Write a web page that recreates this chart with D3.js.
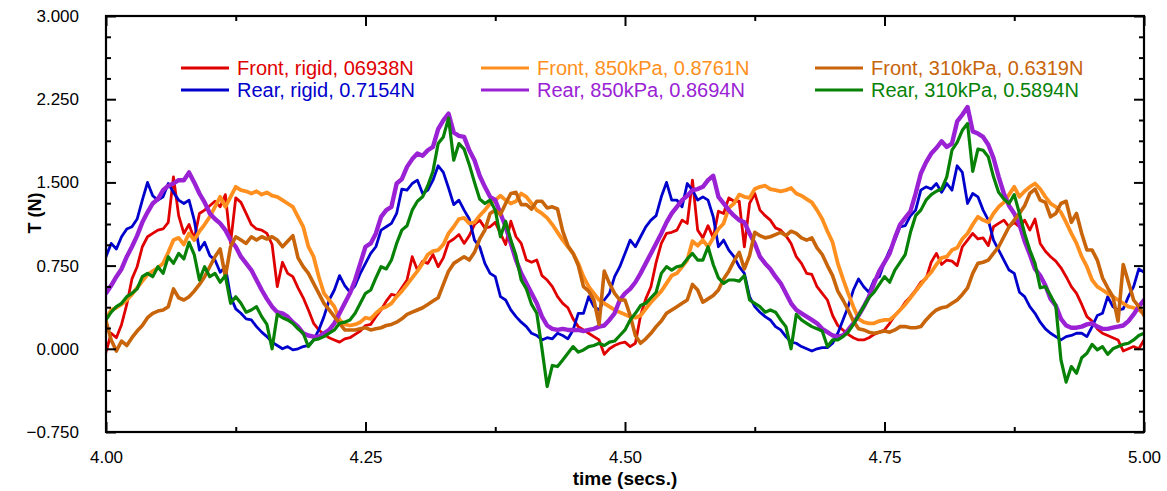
<!DOCTYPE html>
<html>
<head>
<meta charset="utf-8">
<script src="https://cdn.jsdelivr.net/npm/d3@7"></script>
<style>
  html, body { margin: 0; padding: 0; background: #fff; }
  svg { display: block; font-family: "Liberation Sans", Arial, Helvetica, sans-serif; }
</style>
</head>
<body>
<svg id="chart" width="1167" height="491"></svg>
<script>
// Sampling grid: one reading every 5 ms from 4.000 s to 5.000 s
const tStart = 4.0;
const tStep = 0.005;

// Tension T (N), one row per 50 ms
const frontRigid = [
  -0.03, 0.14, 0.10, 0.22, 0.40, 0.63, 0.74, 0.92, 1.01, 1.04,
  1.07, 1.08, 1.14, 1.55, 1.20, 1.04, 1.12, 0.99, 1.22, 1.25,
  1.29, 1.33, 1.28, 1.39, 0.95, 1.36, 1.32, 1.22, 1.12, 1.08,
  1.07, 1.04, 0.94, 0.56, 0.78, 0.68, 0.65, 0.55, 0.46, 0.35,
  0.23, 0.17, 0.13, 0.10, 0.08, 0.06, 0.09, 0.10, 0.13, 0.16,
  0.21, 0.22, 0.29, 0.35, 0.43, 0.49, 0.48, 0.55, 0.62, 0.83,
  0.71, 0.79, 0.77, 0.85, 0.74, 0.82, 0.96, 0.99, 1.03, 0.95,
  1.02, 1.12, 1.16, 1.09, 1.10, 1.14, 1.04, 0.94, 1.15, 1.01,
  0.95, 0.80, 0.78, 0.80, 0.66, 0.62, 0.56, 0.47, 0.41, 0.37,
  0.27, 0.20, 0.17, 0.14, 0.11, 0.08, -0.05, 0.00, 0.03, 0.05,
  0.06, 0.02, 0.05, 0.30, 0.45, 0.56, 0.78, 0.95, 1.04, 1.05,
  1.07, 1.16, 1.13, 1.52, 1.07, 1.00, 1.11, 1.00, 1.24, 1.22,
  1.36, 1.33, 1.33, 0.92, 1.31, 1.40, 1.25, 1.20, 1.16, 1.09,
  1.07, 1.02, 0.95, 0.83, 0.77, 0.68, 0.67, 0.56, 0.50, 0.44,
  0.30, 0.21, 0.17, 0.13, 0.10, 0.08, 0.08, 0.10, 0.13, 0.15,
  0.17, 0.23, 0.30, 0.35, 0.42, 0.47, 0.53, 0.60, 0.63, 0.78,
  0.86, 0.76, 0.80, 0.79, 0.75, 0.92, 0.98, 1.04, 0.99, 1.00,
  0.93, 1.10, 1.13, 1.16, 1.10, 1.14, 1.10, 1.16, 1.07, 1.17,
  0.95, 0.88, 0.83, 0.79, 0.73, 0.65, 0.56, 0.50, 0.40, 0.29,
  0.25, 0.18, 0.14, 0.12, 0.10, 0.08, -0.02, 0.00, 0.02, 0.00,
  0.08
];

const rearRigid = [
  0.83, 0.95, 0.90, 1.01, 1.08, 1.10, 1.17, 1.34, 1.50, 1.38,
  1.34, 1.37, 1.49, 1.41, 1.34, 1.31, 1.34, 1.16, 0.89, 0.96,
  0.84, 0.80, 0.69, 0.74, 0.47, 0.36, 0.32, 0.27, 0.26, 0.20,
  0.15, 0.11, 0.06, 0.03, 0.00, 0.02, -0.01, 0.00, 0.02, 0.03,
  0.08, 0.17, 0.29, 0.44, 0.53, 0.66, 0.57, 0.51, 0.57, 0.68,
  0.77, 0.86, 0.92, 1.07, 1.10, 1.13, 1.22, 1.44, 1.43, 1.49,
  1.52, 1.40, 1.43, 1.52, 1.65, 1.59, 1.45, 1.30, 1.34, 1.25,
  1.17, 0.98, 0.92, 0.77, 0.68, 0.65, 0.47, 0.44, 0.35, 0.29,
  0.24, 0.20, 0.14, 0.12, 0.08, 0.10, 0.09, 0.14, 0.12, 0.09,
  0.17, 0.32, 0.32, 0.47, 0.38, 0.35, 0.44, 0.50, 0.65, 0.74,
  0.86, 0.98, 0.92, 1.01, 1.10, 1.16, 1.20, 1.37, 1.50, 1.34,
  1.34, 1.28, 1.49, 1.43, 1.34, 1.37, 1.34, 1.19, 0.92, 0.98,
  0.89, 0.83, 0.74, 0.68, 0.47, 0.38, 0.33, 0.29, 0.26, 0.20,
  0.17, 0.11, 0.06, 0.05, 0.02, 0.00, -0.02, 0.00, 0.01, 0.01,
  0.05, 0.14, 0.26, 0.38, 0.53, 0.63, 0.56, 0.51, 0.62, 0.65,
  0.78, 0.89, 0.98, 1.10, 1.11, 1.20, 1.25, 1.43, 1.46, 1.44,
  1.49, 1.41, 1.49, 1.43, 1.65, 1.59, 1.31, 1.40, 1.37, 1.25,
  1.16, 0.98, 0.89, 0.80, 0.71, 0.68, 0.51, 0.47, 0.38, 0.32,
  0.24, 0.18, 0.14, 0.11, 0.08, 0.11, 0.12, 0.14, 0.14, 0.11,
  0.20, 0.30, 0.32, 0.47, 0.38, 0.35, 0.36, 0.47, 0.56, 0.72,
  0.69
];

const front850 = [
  0.27, 0.35, 0.37, 0.40, 0.44, 0.49, 0.55, 0.61, 0.67, 0.70,
  0.73, 0.77, 0.87, 0.98, 1.00, 0.94, 1.04, 0.98, 1.06, 1.12,
  1.19, 1.28, 1.37, 1.28, 1.37, 1.46, 1.43, 1.42, 1.40, 1.42,
  1.39, 1.41, 1.38, 1.37, 1.34, 1.31, 1.28, 1.19, 1.10, 0.92,
  0.83, 0.65, 0.50, 0.44, 0.38, 0.26, 0.22, 0.21, 0.22, 0.24,
  0.28, 0.27, 0.32, 0.36, 0.38, 0.41, 0.47, 0.52, 0.58, 0.64,
  0.70, 0.77, 0.85, 0.88, 0.89, 0.94, 1.04, 1.10, 1.17, 1.18,
  1.13, 1.14, 1.20, 1.25, 1.31, 1.34, 1.38, 1.34, 1.31, 1.33,
  1.40, 1.37, 1.31, 1.25, 1.22, 1.18, 1.12, 1.05, 0.98, 0.92,
  0.86, 0.77, 0.65, 0.56, 0.50, 0.44, 0.41, 0.38, 0.35, 0.33,
  0.31, 0.29, 0.28, 0.30, 0.36, 0.42, 0.47, 0.52, 0.59, 0.66,
  0.68, 0.74, 0.80, 0.97, 0.93, 0.98, 0.92, 1.00, 1.08, 1.13,
  1.27, 1.31, 1.39, 1.37, 1.36, 1.44, 1.46, 1.47, 1.44, 1.43,
  1.42, 1.43, 1.45, 1.40, 1.38, 1.35, 1.32, 1.25, 1.17, 1.06,
  0.96, 0.77, 0.63, 0.50, 0.38, 0.27, 0.24, 0.23, 0.23, 0.25,
  0.26, 0.26, 0.30, 0.35, 0.40, 0.46, 0.52, 0.58, 0.64, 0.69,
  0.76, 0.82, 0.83, 0.89, 0.91, 0.99, 1.04, 1.12, 1.19, 1.16,
  1.14, 1.22, 1.28, 1.32, 1.39, 1.46, 1.37, 1.42, 1.46, 1.49,
  1.44, 1.37, 1.31, 1.28, 1.23, 1.14, 1.04, 0.95, 0.83, 0.74,
  0.62, 0.56, 0.53, 0.50, 0.47, 0.44, 0.41, 0.38, 0.37, 0.35,
  0.32
];

const rear850 = [
  0.50, 0.57, 0.65, 0.72, 0.83, 0.92, 1.02, 1.14, 1.23, 1.31,
  1.35, 1.43, 1.47, 1.49, 1.52, 1.52, 1.59, 1.50, 1.40, 1.32,
  1.22, 1.17, 1.13, 1.07, 0.98, 0.92, 0.83, 0.77, 0.71, 0.62,
  0.53, 0.45, 0.38, 0.33, 0.32, 0.29, 0.24, 0.20, 0.14, 0.12,
  0.11, 0.11, 0.14, 0.17, 0.23, 0.32, 0.41, 0.50, 0.62, 0.77,
  0.92, 0.95, 1.04, 1.19, 1.25, 1.28, 1.49, 1.53, 1.64, 1.71,
  1.76, 1.74, 1.79, 1.82, 1.98, 2.06, 2.12, 1.95, 1.92, 1.91,
  1.79, 1.70, 1.56, 1.46, 1.37, 1.34, 1.22, 1.10, 0.95, 0.80,
  0.68, 0.59, 0.50, 0.41, 0.29, 0.21, 0.18, 0.17, 0.18, 0.17,
  0.17, 0.17, 0.16, 0.17, 0.18, 0.20, 0.21, 0.26, 0.32, 0.44,
  0.50, 0.54, 0.60, 0.68, 0.77, 0.86, 0.95, 1.04, 1.14, 1.22,
  1.28, 1.34, 1.38, 1.43, 1.44, 1.46, 1.52, 1.56, 1.37, 1.31,
  1.25, 1.20, 1.16, 1.14, 1.04, 0.95, 0.83, 0.77, 0.72, 0.65,
  0.59, 0.50, 0.41, 0.35, 0.32, 0.29, 0.26, 0.23, 0.18, 0.15,
  0.12, 0.11, 0.12, 0.17, 0.23, 0.30, 0.38, 0.47, 0.59, 0.70,
  0.78, 0.86, 1.00, 1.12, 1.18, 1.24, 1.40, 1.58, 1.68, 1.76,
  1.81, 1.87, 1.82, 1.85, 2.05, 2.11, 2.18, 1.96, 1.94, 1.91,
  1.84, 1.72, 1.55, 1.40, 1.29, 1.22, 1.12, 0.97, 0.85, 0.72,
  0.66, 0.57, 0.45, 0.39, 0.27, 0.21, 0.19, 0.19, 0.20, 0.22,
  0.23, 0.20, 0.18, 0.18, 0.19, 0.20, 0.21, 0.25, 0.31, 0.38,
  0.44
];

const front310 = [
  0.25, 0.08, -0.02, 0.07, 0.03, 0.10, 0.16, 0.21, 0.28, 0.32,
  0.34, 0.35, 0.38, 0.54, 0.46, 0.44, 0.47, 0.52, 0.58, 0.65,
  0.74, 0.83, 0.90, 0.65, 0.92, 1.01, 0.98, 0.95, 1.01, 0.98,
  1.01, 0.99, 1.01, 0.98, 0.92, 0.97, 1.02, 0.82, 0.74, 0.68,
  0.59, 0.50, 0.41, 0.35, 0.29, 0.23, 0.17, 0.17, 0.17, 0.18,
  0.19, 0.17, 0.18, 0.19, 0.21, 0.22, 0.24, 0.27, 0.31, 0.33,
  0.35, 0.37, 0.40, 0.43, 0.46, 0.58, 0.70, 0.77, 0.80, 0.83,
  0.80, 0.87, 0.99, 1.07, 1.22, 1.25, 1.21, 1.31, 1.40, 1.41,
  1.30, 1.30, 1.26, 1.33, 1.33, 1.27, 1.28, 1.26, 1.06, 0.93,
  0.86, 0.75, 0.56, 0.52, 0.44, 0.22, 0.70, 0.59, 0.50, 0.44,
  0.44, 0.30, 0.12, 0.05, 0.09, 0.14, 0.20, 0.25, 0.32, 0.35,
  0.38, 0.41, 0.44, 0.58, 0.53, 0.42, 0.45, 0.48, 0.53, 0.63,
  0.70, 0.79, 0.87, 0.72, 0.84, 1.05, 1.02, 1.00, 1.01, 1.03,
  1.05, 1.02, 1.06, 1.04, 1.00, 0.98, 1.00, 0.91, 0.85, 0.75,
  0.66, 0.52, 0.44, 0.35, 0.25, 0.18, 0.17, 0.15, 0.14, 0.15,
  0.16, 0.15, 0.17, 0.20, 0.20, 0.19, 0.19, 0.20, 0.26, 0.31,
  0.35, 0.37, 0.38, 0.41, 0.44, 0.49, 0.55, 0.68, 0.77, 0.78,
  0.80, 0.86, 0.92, 1.01, 1.10, 1.16, 1.22, 1.29, 1.40, 1.44,
  1.34, 1.32, 1.19, 1.22, 1.31, 1.33, 1.14, 1.22, 1.04, 0.89,
  0.89, 0.80, 0.64, 0.55, 0.47, 0.25, 0.76, 0.60, 0.44, 0.38,
  0.30
];

const rear310 = [
  0.26, 0.33, 0.38, 0.41, 0.47, 0.50, 0.54, 0.65, 0.68, 0.65,
  0.74, 0.68, 0.83, 0.77, 0.86, 0.81, 0.96, 0.85, 0.62, 0.74,
  0.65, 0.68, 0.60, 0.66, 0.41, 0.47, 0.41, 0.33, 0.35, 0.38,
  0.29, 0.22, 0.00, 0.31, 0.28, 0.26, 0.23, 0.18, 0.14, 0.02,
  0.08, 0.09, 0.11, 0.14, 0.17, 0.23, 0.24, 0.26, 0.32, 0.41,
  0.50, 0.53, 0.64, 0.74, 0.72, 0.80, 0.95, 1.07, 1.11, 1.25,
  1.33, 1.37, 1.47, 1.60, 1.85, 1.91, 2.08, 1.70, 1.85, 1.80,
  1.66, 1.50, 1.35, 1.31, 1.34, 1.25, 1.01, 1.15, 0.98, 0.84,
  0.62, 0.54, 0.40, 0.32, 0.00, -0.34, -0.15, -0.16, -0.10, -0.04,
  0.02, -0.03, -0.01, 0.02, 0.03, 0.05, 0.03, 0.06, 0.07, 0.12,
  0.17, 0.26, 0.32, 0.39, 0.41, 0.46, 0.51, 0.68, 0.74, 0.71,
  0.74, 0.75, 0.81, 0.86, 0.80, 0.80, 0.92, 0.76, 0.64, 0.59,
  0.62, 0.62, 0.61, 0.66, 0.44, 0.41, 0.38, 0.33, 0.35, 0.33,
  0.26, 0.20, 0.00, 0.31, 0.26, 0.23, 0.20, 0.18, 0.16, 0.02,
  0.08, 0.08, 0.11, 0.15, 0.22, 0.30, 0.38, 0.46, 0.51, 0.58,
  0.65, 0.60, 0.71, 0.78, 0.85, 1.05, 1.20, 1.25, 1.34, 1.39,
  1.42, 1.44, 1.55, 1.79, 1.86, 1.97, 2.03, 1.60, 1.80, 1.79,
  1.73, 1.55, 1.41, 1.35, 1.31, 1.39, 1.22, 1.04, 0.89, 0.77,
  0.55, 0.56, 0.48, 0.39, -0.10, -0.30, -0.16, -0.22, -0.08, -0.04,
  0.04, -0.01, 0.02, -0.05, 0.00, 0.02, 0.04, 0.05, 0.08, 0.12,
  0.14
];

// Legend labels, in drawing order (later ones sit on top)
const seriesLabels = [
  "Front, rigid, 06938N",
  "Rear, rigid, 0.7154N",
  "Front, 850kPa, 0.8761N",
  "Rear, 850kPa, 0.8694N",
  "Front, 310kPa, 0.6319N",
  "Rear, 310kPa, 0.5894N"
];
const seriesValues = [frontRigid, rearRigid, front850, rear850, front310, rear310];

// Axis ticks
const xMajorTicks = [4.00, 4.25, 4.50, 4.75, 5.00];
const xMinorTicks = [4.125, 4.375, 4.625, 4.875];
const yMajorTicks = [-0.75, 0.00, 0.75, 1.50, 2.25, 3.00];
const yMinorTicks = [-0.5625, -0.375, -0.1875, 0.1875, 0.375, 0.5625,
                     0.9375, 1.125, 1.3125, 1.6875, 1.875, 2.0625,
                     2.4375, 2.625, 2.8125];

// ---- styling ----
const colors = ["#e00000", "#0000cc", "#ff9020", "#9a22d4", "#c8640a", "#078207"];
const widths = [2.8, 2.8, 3.8, 4.4, 3.6, 3.2];

const svg = d3.select("#chart");
const W = 1167, H = 491;
const plot = { left: 106, top: 16, right: 1144, bottom: 432 };

svg.append("rect").attr("width", W).attr("height", H).attr("fill", "#fff");

const x = d3.scaleLinear().domain([4, 5]).range([plot.left, plot.right]);
const y = d3.scaleLinear().domain([-0.75, 3]).range([plot.bottom, plot.top]);

svg.append("defs").append("clipPath").attr("id", "plotClip")
  .append("rect")
  .attr("x", plot.left).attr("y", plot.top)
  .attr("width", plot.right - plot.left).attr("height", plot.bottom - plot.top);

// ---- data lines ----
const line = d3.line()
  .x((d, i) => x(tStart + i * tStep))
  .y(d => y(d));

const lines = svg.append("g").attr("clip-path", "url(#plotClip)");
seriesValues.forEach((vals, k) => {
  lines.append("path")
    .datum(vals)
    .attr("d", line)
    .attr("fill", "none")
    .attr("stroke", colors[k])
    .attr("stroke-width", widths[k])
    .attr("stroke-linejoin", "round")
    .attr("stroke-linecap", "round");
});

// ---- axes (ticks drawn inward on all four sides) ----
function styleAxis(g) {
  g.select(".domain").remove();
  g.selectAll(".tick line").attr("stroke", "#000").attr("stroke-width", 2);
  g.selectAll(".tick text")
    .attr("fill", "#000")
    .style("font-size", "17px")
    .style("font-family", "'Liberation Sans', Arial, Helvetica, sans-serif");
}

// bottom
svg.append("g").attr("transform", `translate(0,${plot.bottom})`)
  .call(d3.axisBottom(x).tickValues(xMajorTicks).tickSize(-10).tickPadding(19)
    .tickFormat(d3.format(".2f")))
  .call(styleAxis);
svg.append("g").attr("transform", `translate(0,${plot.bottom})`)
  .call(d3.axisBottom(x).tickValues(xMinorTicks).tickSize(-5).tickFormat(""))
  .call(styleAxis);
// top
svg.append("g").attr("transform", `translate(0,${plot.top})`)
  .call(d3.axisTop(x).tickValues(xMajorTicks).tickSize(-10).tickFormat(""))
  .call(styleAxis);
svg.append("g").attr("transform", `translate(0,${plot.top})`)
  .call(d3.axisTop(x).tickValues(xMinorTicks).tickSize(-5).tickFormat(""))
  .call(styleAxis);
// left
svg.append("g").attr("transform", `translate(${plot.left},0)`)
  .call(d3.axisLeft(y).tickValues(yMajorTicks).tickSize(-10).tickPadding(27)
    .tickFormat(d3.format(".3f")))
  .call(styleAxis);
svg.append("g").attr("transform", `translate(${plot.left},0)`)
  .call(d3.axisLeft(y).tickValues(yMinorTicks).tickSize(-5).tickFormat(""))
  .call(styleAxis);
// right
svg.append("g").attr("transform", `translate(${plot.right},0)`)
  .call(d3.axisRight(y).tickValues(yMajorTicks).tickSize(-10).tickFormat(""))
  .call(styleAxis);
svg.append("g").attr("transform", `translate(${plot.right},0)`)
  .call(d3.axisRight(y).tickValues(yMinorTicks).tickSize(-5).tickFormat(""))
  .call(styleAxis);

// frame
svg.append("rect")
  .attr("x", plot.left).attr("y", plot.top)
  .attr("width", plot.right - plot.left).attr("height", plot.bottom - plot.top)
  .attr("fill", "none").attr("stroke", "#000").attr("stroke-width", 2.2);

// axis titles
svg.append("text")
  .attr("x", (plot.left + plot.right) / 2).attr("y", 485)
  .attr("text-anchor", "middle")
  .style("font-size", "19px").style("font-weight", "bold")
  .text("time (secs.)");

svg.append("text")
  .attr("transform", "translate(41,213) rotate(-90)")
  .attr("text-anchor", "middle")
  .style("font-size", "18px").style("font-weight", "bold")
  .text("T (N)");

// ---- legend: three columns, two rows ----
const legendCols = [181, 481, 815];
const legendRows = [68, 90];
const legend = svg.append("g");
seriesLabels.forEach((label, k) => {
  const cx = legendCols[Math.floor(k / 2)];
  const cy = legendRows[k % 2];
  legend.append("line")
    .attr("x1", cx).attr("x2", cx + 48)
    .attr("y1", cy).attr("y2", cy)
    .attr("stroke", colors[k]).attr("stroke-width", 3);
  legend.append("text")
    .attr("x", cx + 56).attr("y", cy)
    .attr("dy", "0.35em")
    .attr("fill", colors[k])
    .style("font-size", "20px")
    .text(label);
});
</script>
</body>
</html>
